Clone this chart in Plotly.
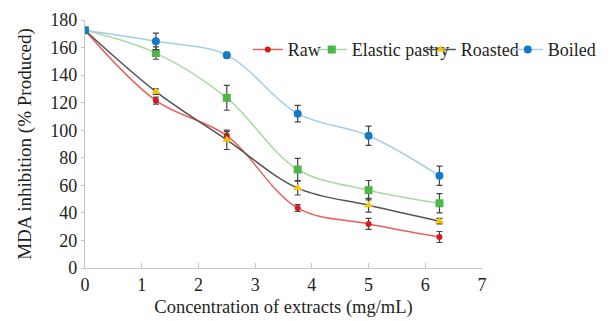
import plotly.graph_objects as go

x_conc = [0, 1.25, 2.5, 3.75, 5, 6.25]

raw = [172.5, 121.5, 96, 43.5, 32, 22.5]
raw_err = [1, 2.5, 3, 2.5, 4, 4]
elastic = [172.5, 156, 123.5, 71.5, 56.5, 47]
elastic_err = [1, 4.5, 9, 8, 7, 7]
roasted = [172.5, 128, 93, 58, 45.5, 34]
roasted_err = [1, 2, 7, 5, 5, 2]
boiled = [172.5, 164.5, 154.5, 112, 96, 67]
boiled_err = [1, 6, 2, 6, 7, 7]

# name, y, err, line colour, marker colour, symbol, marker size, legend entry width
series = [
    ("Raw", raw, raw_err, "#e8605a", "#d7191c", "circle", 6, 19),
    ("Elastic pastry", elastic, elastic_err, "#a9d9a2", "#4db848", "square", 8, 64),
    ("Roasted", roasted, roasted_err, "#555555", "#f7c600", "triangle-up", 8, 42),
    ("Boiled", boiled, boiled_err, "#a4cdea", "#1479c9", "circle", 8, 45),
]

FONT = "Liberation Serif, Times New Roman, DejaVu Serif, serif"
TXT = "#231f20"

fig = go.Figure()
for name, ys, err, lc, mc, sym, ms, lw in series:
    fig.add_trace(go.Scatter(
        x=x_conc, y=ys, name=name, mode="lines+markers",
        line=dict(color=lc, width=1.5, shape="spline", smoothing=1.0),
        marker=dict(color=mc, size=ms, symbol=sym),
        error_y=dict(type="data", array=err, visible=True, color="#444444",
                     thickness=1.2, width=3),
        legendwidth=lw,
    ))

# page body has an 8px margin, so the figure is sized to fill the rest of the window
fig.update_layout(
    width=605, height=313,
    margin=dict(l=77, r=131, t=12, b=53),
    plot_bgcolor="white", paper_bgcolor="white",
    font=dict(family=FONT, size=18, color=TXT),
    showlegend=True,
    legend=dict(orientation="h", x=0.41, y=0.88, xanchor="left", yanchor="middle",
                font=dict(family=FONT, size=18, color=TXT),
                itemwidth=30, tracegroupgap=0, bgcolor="rgba(0,0,0,0)",
                borderwidth=0, entrywidthmode="pixels"),
)
fig.update_xaxes(
    range=[0, 7], dtick=1, tick0=0, showgrid=False, zeroline=False,
    showline=True, linecolor="#c8c4c4", linewidth=1.2,
    ticks="inside", ticklen=5, tickcolor="#c8c4c4",
    tickfont=dict(family=FONT, size=18, color=TXT), automargin=False,
    title=dict(text="Concentration of extracts (mg/mL)", font=dict(family=FONT, size=18.5, color=TXT), standoff=6),
)
fig.update_yaxes(
    range=[0, 180], dtick=20, tick0=0, showgrid=False, zeroline=False,
    showline=True, linecolor="#c8c4c4", linewidth=1.2,
    ticks="outside", ticklen=3, tickcolor="#c8c4c4",
    tickfont=dict(family=FONT, size=18, color=TXT), automargin=False,
    title=dict(text="MDA inhibition (% Produced)", font=dict(family=FONT, size=19, color=TXT), standoff=13),
)

fig.write_html("out.html")
